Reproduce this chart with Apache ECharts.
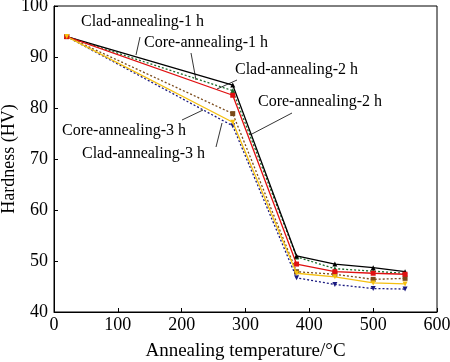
<!DOCTYPE html>
<html><head><meta charset="utf-8">
<script src="https://cdn.jsdelivr.net/npm/echarts@6/dist/echarts.min.js"></script>
<style>html,body{margin:0;padding:0;background:#fff}#c{width:450px;height:362px}</style>
</head><body><div id="c"></div>
<script>
var temps = [20, 280, 380, 440, 500, 550];
var clad1 = [94, 84.5, 51, 49.4, 48.7, 47.9];
var core1 = [94, 83.4, 50.8, 48.5, 48.0, 47.6];
var clad2 = [94, 82.5, 49.4, 47.9, 47.6, 47.4];
var core2 = [94, 78.9, 47.9, 47.4, 46.4, 46.6];
var clad3 = [94, 77.2, 47.6, 46.9, 45.7, 45.5];
var core3 = [94, 76.5, 46.7, 45.4, 44.6, 44.5];
var xTicks = [0, 100, 200, 300, 400, 500, 600];
var yTicks = [40, 50, 60, 70, 80, 90, 100];

function pairs(v){ return temps.map(function(t,i){ return [t, v[i]]; }); }
var F = '"Liberation Serif","Times New Roman",serif';
function ser(name, data, color, dashed, symbol, size){
  return {name:name, type:'line', data:pairs(data), symbol:symbol, symbolSize:size||5,
    lineStyle:{color:color, width:1.3, type: dashed ? [2,2] : 'solid'},
    itemStyle:{color:color}, z: dashed?2:3};
}
var chart = echarts.init(document.getElementById('c'));
var labels = [
  {t:'Clad-annealing-1 h', x:81, y:23, l:[140,37,136,55]},
  {t:'Core-annealing-1 h', x:144, y:44, l:[191,53,196,80]},
  {t:'Clad-annealing-2 h', x:235, y:71, l:[237,80,217,89]},
  {t:'Core-annealing-2 h', x:258, y:103, l:[292,113,250,135]},
  {t:'Core-annealing-3 h', x:62, y:132, l:[182,120,203,110]},
  {t:'Clad-annealing-3 h', x:82, y:155, l:[216,147,222,123]}
];
var g = [];
labels.forEach(function(a){
  g.push({type:'text', left:a.x, top:a.y-9, z:10, style:{text:a.t, font:'16px '+F, fill:'#000'}});
  g.push({type:'line', z:10, shape:{x1:a.l[0],y1:a.l[1],x2:a.l[2],y2:a.l[3]}, style:{stroke:'#000', lineWidth:0.8}});
});
chart.setOption({
  animation:false,
  grid:{left:54, right:13, top:6, bottom:50, show:true, borderColor:'#000', borderWidth:1,
    containLabel:false, outerBoundsMode:'none'},
  xAxis:{type:'value', min:xTicks[0], max:xTicks[xTicks.length-1], interval:xTicks[1]-xTicks[0],
    name:'Annealing temperature/°C', nameLocation:'middle', nameGap:30, nameMoveOverlap:false,
    nameTextStyle:{fontFamily:F, fontSize:19, color:'#000'},
    axisLine:{lineStyle:{color:'#000'}}, axisTick:{inside:true, length:4, lineStyle:{color:'#000'}},
    axisLabel:{fontFamily:F, fontSize:18, color:'#000', margin:4}, splitLine:{show:false}},
  yAxis:{type:'value', min:yTicks[0], max:yTicks[yTicks.length-1], interval:yTicks[1]-yTicks[0],
    name:'Hardness (HV)', nameLocation:'middle', nameGap:36, nameMoveOverlap:false,
    nameTextStyle:{fontFamily:F, fontSize:18, color:'#000'},
    axisLine:{lineStyle:{color:'#000'}}, axisTick:{inside:true, length:4, lineStyle:{color:'#000'}},
    axisLabel:{fontFamily:F, fontSize:18, color:'#000', margin:6}, splitLine:{show:false}},
  series:[
    ser('Clad-annealing-1 h', clad1, '#000000', false, 'triangle', 5),
    ser('Core-annealing-1 h', core1, '#1a6b2a', true, 'triangle', 5),
    ser('Clad-annealing-2 h', clad2, '#e01010', false, 'rect', 5),
    ser('Core-annealing-2 h', core2, '#7a4a1a', true, 'rect', 5),
    ser('Clad-annealing-3 h', clad3, '#f5c010', false, 'path://M0,0L10,0L5,9Z', 5),
    ser('Core-annealing-3 h', core3, '#1a1a80', true, 'path://M0,0L10,0L5,9Z', 5)
  ],
  graphic:g
});
</script></body></html>
